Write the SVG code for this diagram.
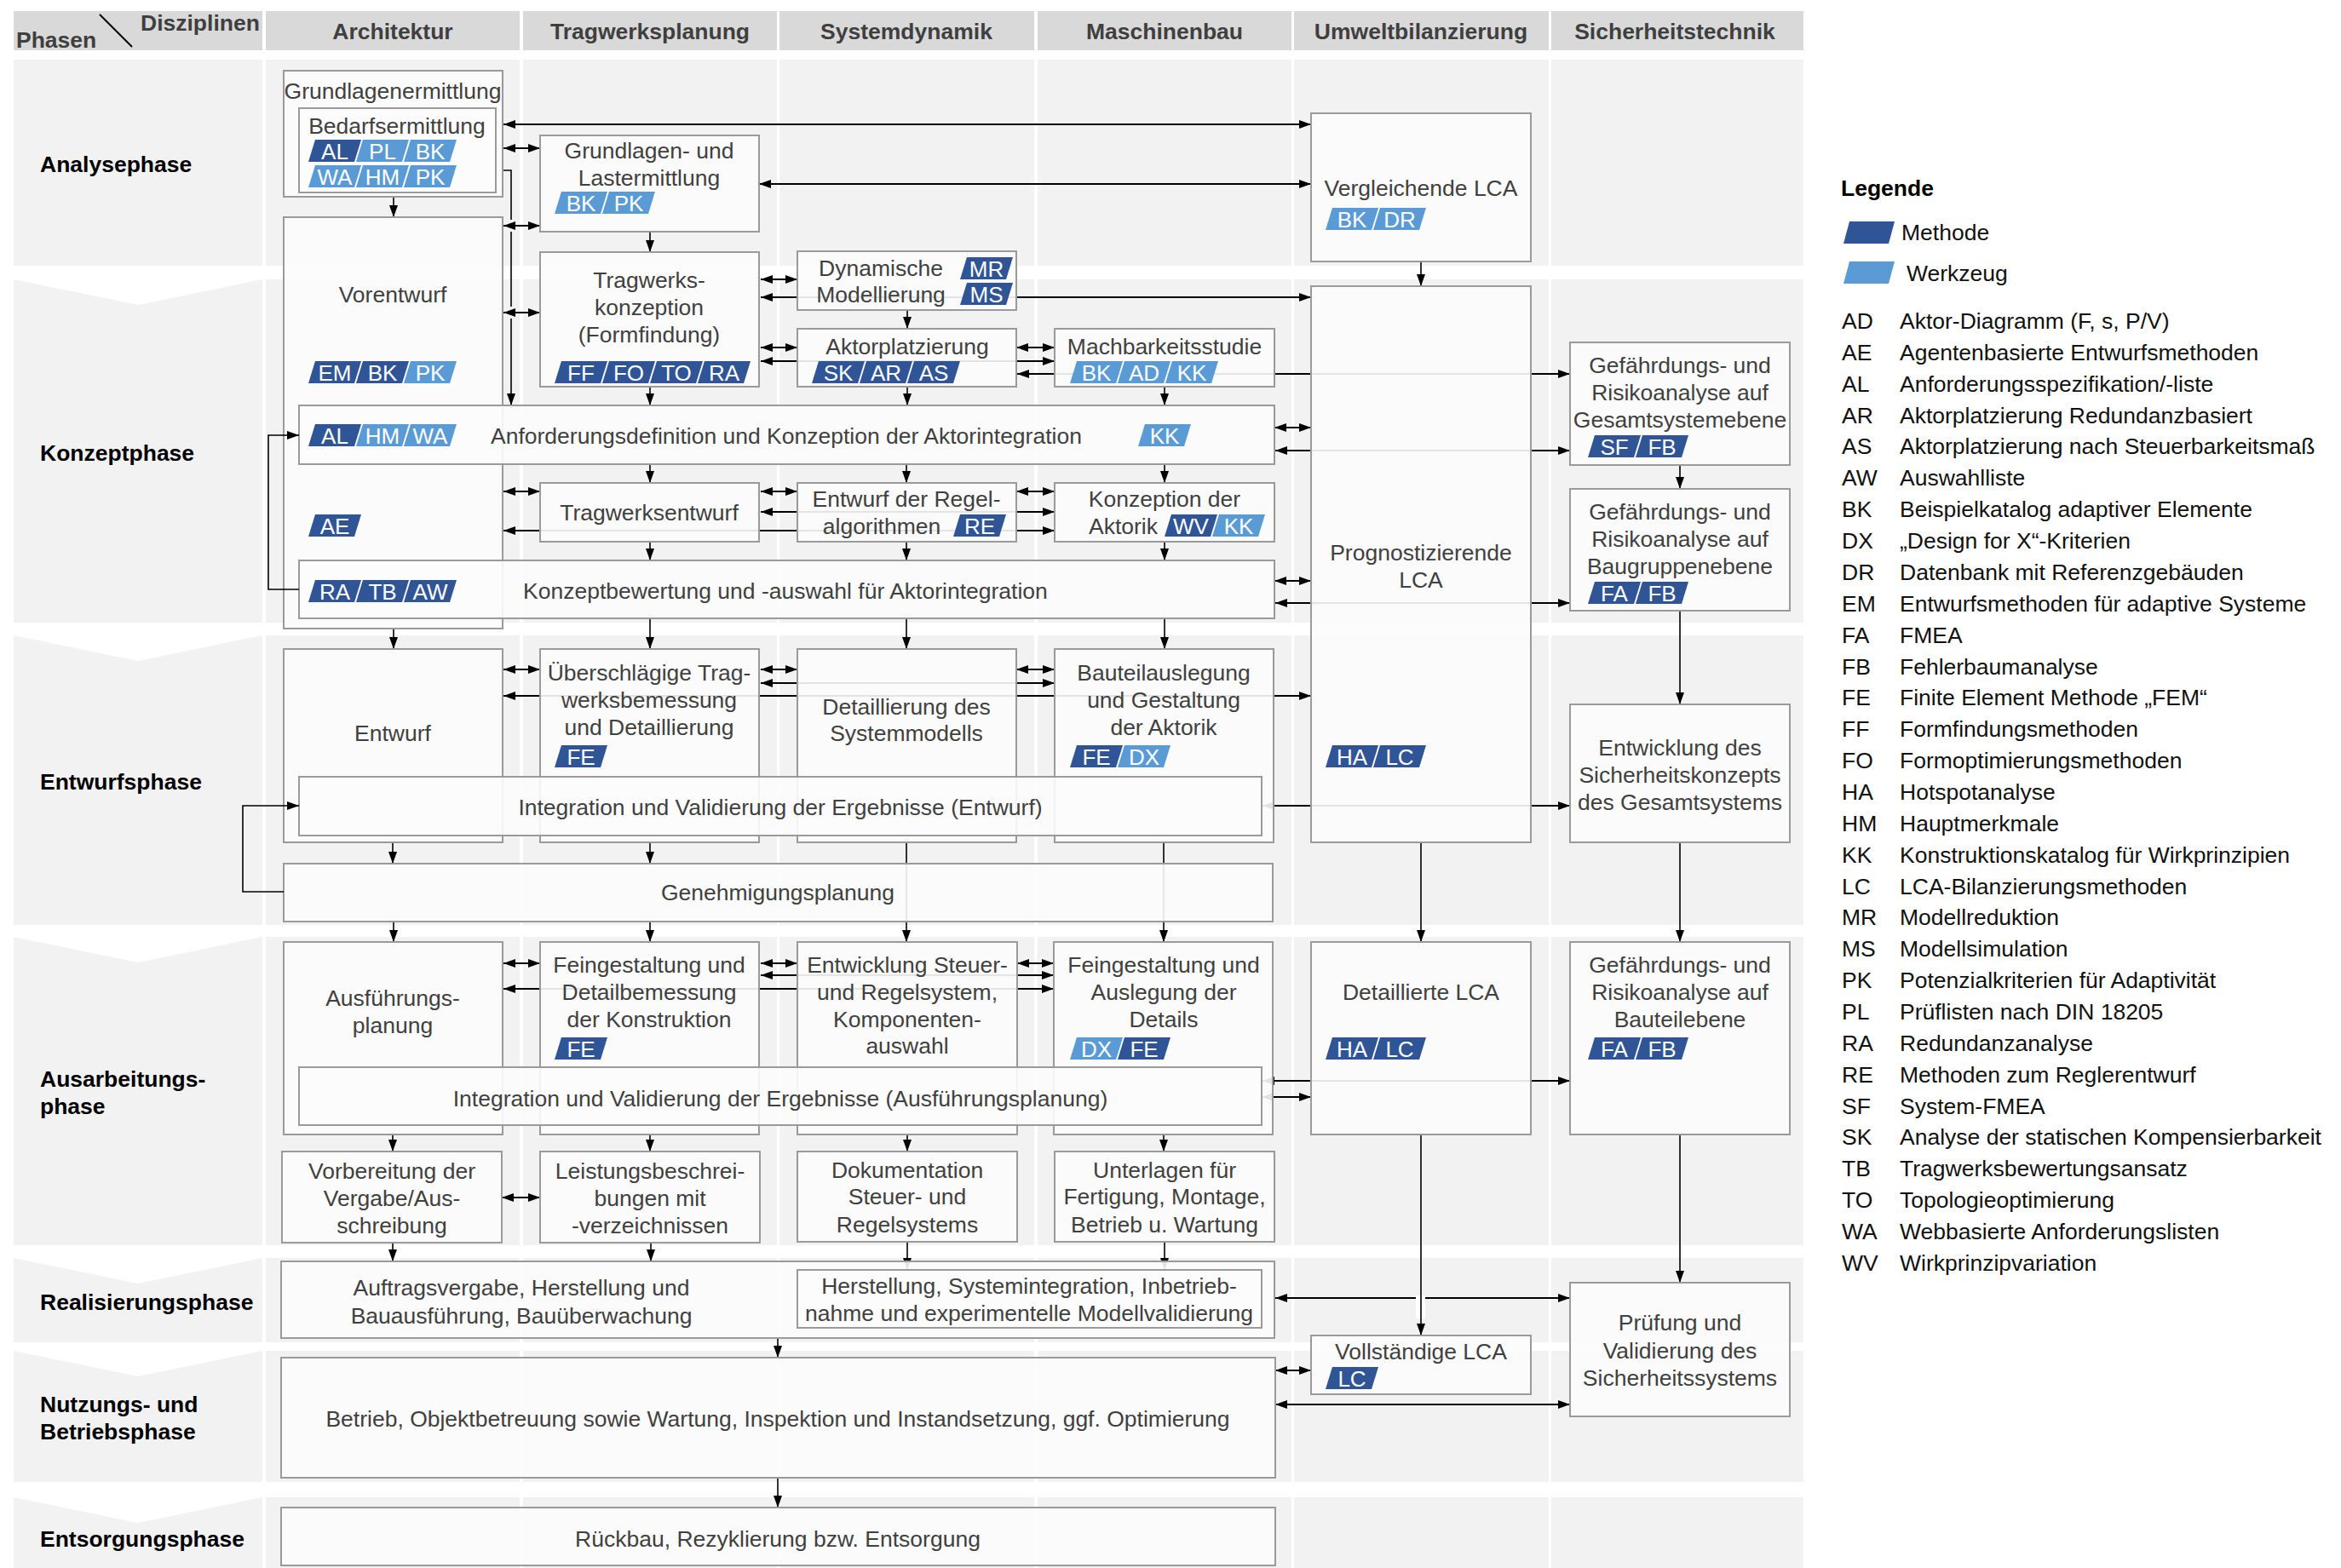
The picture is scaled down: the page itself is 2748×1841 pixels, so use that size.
<svg xmlns="http://www.w3.org/2000/svg" width="2748" height="1841" viewBox="0 0 2748 1841">
<style>
.band{fill:#f2f2f2}
.hdr{fill:#d9d9d9}
.gap{fill:#ffffff}
.box{fill:#fcfcfc;fill-opacity:.9;stroke:#9a9a9a;stroke-width:2}
text{font-family:"Liberation Sans",Arial,sans-serif;font-size:26.5px}
.t{fill:#404040;text-anchor:middle}
.ts{fill:#404040;text-anchor:start}
.h{fill:#3f3f3f;font-weight:bold;text-anchor:middle}
.hl{fill:#3f3f3f;font-weight:bold}
.ph{fill:#000;font-weight:bold}
.lg{fill:#111}
.m{fill:#2f5597}
.w{fill:#5b9bd5}
.tg{fill:#fff;font-size:26px;text-anchor:middle}
.c{fill:none;stroke:#000;stroke-width:2}
.v{fill:none;stroke:#000;stroke-width:1.6}
.a{marker-end:url(#ah)}
.d{marker-start:url(#ah);marker-end:url(#ah)}
</style>
<defs>
<marker id="ah" viewBox="0 0 14 10" refX="14" refY="5" markerWidth="14" markerHeight="10" markerUnits="userSpaceOnUse" orient="auto-start-reverse">
<path d="M0,0 L14,5 L0,10 z" fill="#000"/>
</marker>
</defs>

<rect width="2748" height="1841" fill="#fff"/>

<!-- header and phase bands -->
<g id="grid">
<rect class="hdr" x="16" y="13" width="2101" height="46"/>
<rect class="band" x="16" y="70" width="2101" height="242"/>
<rect class="band" x="16" y="328" width="2101" height="403"/>
<rect class="band" x="16" y="746" width="2101" height="340"/>
<rect class="band" x="16" y="1100" width="2101" height="362"/>
<rect class="band" x="16" y="1477" width="2101" height="99"/>
<rect class="band" x="16" y="1586" width="2101" height="154"/>
<rect class="band" x="16" y="1758" width="2101" height="83"/>
<rect class="gap" x="308" y="13" width="4" height="1828"/>
<rect class="gap" x="610" y="13" width="4" height="1828"/>
<rect class="gap" x="912" y="13" width="3" height="1828"/>
<rect class="gap" x="1214" y="13" width="4" height="1828"/>
<rect class="gap" x="1516" y="13" width="3" height="1828"/>
<rect class="gap" x="1818" y="13" width="3" height="1828"/>
<polygon class="gap" points="16,328 308,328 162,358"/>
<polygon class="gap" points="16,746 308,746 162,776"/>
<polygon class="gap" points="16,1100 308,1100 162,1130"/>
<polygon class="gap" points="16,1477 308,1477 162,1507"/>
<polygon class="gap" points="16,1586 308,1586 162,1616"/>
<polygon class="gap" points="16,1758 308,1758 162,1788"/>
<text class="hl" x="19" y="56">Phasen</text>
<text class="hl" x="165" y="36">Disziplinen</text>
<path d="M117,17 L155,55" stroke="#000" stroke-width="2"/>
<text class="h" x="461" y="46">Architektur</text>
<text class="h" x="763" y="46">Tragwerksplanung</text>
<text class="h" x="1064" y="46">Systemdynamik</text>
<text class="h" x="1367" y="46">Maschinenbau</text>
<text class="h" x="1668" y="46">Umweltbilanzierung</text>
<text class="h" x="1966" y="46">Sicherheitstechnik</text>
<text class="ph" x="47" y="202">Analysephase</text>
<text class="ph" x="47" y="541">Konzeptphase</text>
<text class="ph" x="47" y="927">Entwurfsphase</text>
<text class="ph" x="47" y="1276">Ausarbeitungs-</text>
<text class="ph" x="47" y="1308">phase</text>
<text class="ph" x="47" y="1538">Realisierungsphase</text>
<text class="ph" x="47" y="1658">Nutzungs- und</text>
<text class="ph" x="47" y="1690">Betriebsphase</text>
<text class="ph" x="47" y="1816">Entsorgungsphase</text>
</g>

<!-- connectors running beneath the boxes -->
<g id="connectors">
<path class="c d" d="M591,174 H634"/>
<path class="c d" d="M591,265 H634"/>
<path class="c d" d="M591,367 H634"/>
<path class="c d" d="M893,328 H936"/>
<path class="c d" d="M893,408 H936"/>
<path class="c d" d="M1193,408 H1238"/>
<path class="c d" d="M1496,502 H1539"/>
<path class="c d" d="M591,577 H634"/>
<path class="c d" d="M893,577 H936"/>
<path class="c d" d="M1193,577 H1238"/>
<path class="c d" d="M1496,682 H1539"/>
<path class="c d" d="M591,786 H634"/>
<path class="c d" d="M893,786 H936"/>
<path class="c d" d="M1193,786 H1238"/>
<path class="c d" d="M591,1131 H634"/>
<path class="c d" d="M893,1131 H936"/>
<path class="c d" d="M1194,1131 H1237"/>
<path class="c d" d="M1481,1288 H1539"/>
<path class="c d" d="M589,1406 H634"/>
<path class="c d" d="M1497,1609 H1539"/>

<path class="c d" d="M591,146 H1539"/>
<path class="c d" d="M891,216 H1539"/>
<path class="c d" d="M893,349 H1539"/>
<path class="c d" d="M893,424 H1238"/>
<path class="c d" d="M1194,439 H1843"/>
<path class="c d" d="M1497,529 H1843"/>
<path class="c d" d="M893,601 H1238"/>
<path class="c d" d="M591,623 H1238"/>
<path class="c d" d="M1497,708 H1843"/>
<path class="c d" d="M893,802 H1238"/>
<path class="c d" d="M591,817 H1539"/>
<path class="c d" d="M1482,946 H1843"/>
<path class="c d" d="M893,1145 H1237"/>
<path class="c d" d="M591,1161 H1237"/>
<path class="c d" d="M1482,1269 H1843"/>
<path class="c d" d="M1497,1524 H1843"/>
<path class="c d" d="M1497,1649 H1843"/>

<!-- line jump where the LCA feed crosses the realisation link -->
<rect x="1662" y="1521" width="11" height="27" fill="#fff"/>

<path class="v a" d="M462,231 V255"/>
<path class="v a" d="M763,272 V296"/>
<path class="v a" d="M1668,307 V336"/>
<path class="v a" d="M1065,364 V386"/>
<path class="v a" d="M763,454 V476"/>
<path class="v a" d="M1065,454 V476"/>
<path class="v a" d="M1367,454 V476"/>
<path class="v a" d="M1972,546 V574"/>
<path class="v a" d="M763,545 V567"/>
<path class="v a" d="M1064,545 V567"/>
<path class="v a" d="M1367,545 V567"/>
<path class="v a" d="M763,636 V658"/>
<path class="v a" d="M1064,636 V658"/>
<path class="v a" d="M1367,636 V658"/>
<path class="v a" d="M462,738 V762"/>
<path class="v a" d="M763,726 V762"/>
<path class="v a" d="M1064,726 V762"/>
<path class="v a" d="M1367,726 V762"/>
<path class="v a" d="M1972,717 V827"/>
<path class="v a" d="M461,989 V1014"/>
<path class="v a" d="M763,989 V1014"/>
<path class="v a" d="M1064,989 V1106"/>
<path class="v a" d="M1366,989 V1106"/>
<path class="v a" d="M1668,989 V1106"/>
<path class="v a" d="M462,1082 V1106"/>
<path class="v a" d="M763,1082 V1106"/>
<path class="v a" d="M1972,989 V1106"/>
<path class="v a" d="M461,1332 V1352"/>
<path class="v a" d="M763,1332 V1352"/>
<path class="v a" d="M1065,1332 V1352"/>
<path class="v a" d="M1366,1332 V1352"/>
<path class="v a" d="M1668,1332 V1568"/>
<path class="v a" d="M1972,1332 V1506"/>
<path class="v a" d="M461,1459 V1481"/>
<path class="v a" d="M764,1459 V1481"/>
<path class="v a" d="M1065,1458 V1491"/>
<path class="v a" d="M1367,1458 V1491"/>
<path class="v a" d="M913,1571 V1594"/>
<path class="v a" d="M913,1735 V1770"/>

<path class="v" d="M590,200 H600 V258"/>
<path class="v" d="M600,272 V360"/>
<path class="v a" d="M600,374 V476"/>
</g>

<!-- Analysephase -->
<g id="n-grundlagen">
<rect class="box" x="333" y="83" width="257" height="148"/>
<text class="t" x="461" y="116">Grundlagenermittlung</text>
</g>
<g id="n-bedarf">
<rect class="box" x="351" y="127" width="231" height="99"/>
<text class="t" x="466" y="157">Bedarfsermittlung</text>
<polygon class="m" points="370,164 424,164 416,190 362,190"/><text class="tg" x="393" y="187">AL</text>
<polygon class="w" points="426,164 480,164 472,190 418,190"/><text class="tg" x="449" y="187">PL</text>
<polygon class="w" points="482,164 536,164 528,190 474,190"/><text class="tg" x="505" y="187">BK</text>
<polygon class="w" points="370,194 424,194 416,220 362,220"/><text class="tg" x="393" y="217">WA</text>
<polygon class="w" points="426,194 480,194 472,220 418,220"/><text class="tg" x="449" y="217">HM</text>
<polygon class="w" points="482,194 536,194 528,220 474,220"/><text class="tg" x="505" y="217">PK</text>
</g>
<g id="n-grundlagen-last">
<rect class="box" x="634" y="159" width="257" height="113"/>
<text class="t" x="762" y="186">Grundlagen- und</text>
<text class="t" x="762" y="218">Lastermittlung</text>
<polygon class="w" points="659,225 713,225 705,251 651,251"/><text class="tg" x="682" y="248">BK</text>
<polygon class="w" points="715,225 769,225 761,251 707,251"/><text class="tg" x="738" y="248">PK</text>
</g>
<g id="n-vergleichende-lca">
<rect class="box" x="1539" y="133" width="258" height="174"/>
<text class="t" x="1668" y="230">Vergleichende LCA</text>
<polygon class="w" points="1564,244 1618,244 1610,270 1556,270"/><text class="tg" x="1587" y="267">BK</text>
<polygon class="w" points="1620,244 1674,244 1666,270 1612,270"/><text class="tg" x="1643" y="267">DR</text>
</g>

<!-- Konzeptphase -->
<g id="n-vorentwurf">
<rect class="box" x="333" y="255" width="257" height="483"/>
<text class="t" x="461" y="355">Vorentwurf</text>
<polygon class="m" points="370,424 424,424 416,450 362,450"/><text class="tg" x="393" y="447">EM</text>
<polygon class="m" points="426,424 480,424 472,450 418,450"/><text class="tg" x="449" y="447">BK</text>
<polygon class="w" points="482,424 536,424 528,450 474,450"/><text class="tg" x="505" y="447">PK</text>
<polygon class="m" points="370,604 424,604 416,630 362,630"/><text class="tg" x="393" y="627">AE</text>
</g>
<g id="n-tragwerkskonzeption">
<rect class="box" x="634" y="296" width="257" height="158"/>
<text class="t" x="762" y="338">Tragwerks-</text>
<text class="t" x="762" y="370">konzeption</text>
<text class="t" x="762" y="402">(Formfindung)</text>
<polygon class="m" points="659,424 713,424 705,450 651,450"/><text class="tg" x="682" y="447">FF</text>
<polygon class="m" points="715,424 769,424 761,450 707,450"/><text class="tg" x="738" y="447">FO</text>
<polygon class="m" points="771,424 825,424 817,450 763,450"/><text class="tg" x="794" y="447">TO</text>
<polygon class="m" points="827,424 881,424 873,450 819,450"/><text class="tg" x="850" y="447">RA</text>
</g>
<g id="n-dynamische-modellierung">
<rect class="box" x="936" y="295" width="257" height="69"/>
<text class="t" x="1034" y="324">Dynamische</text>
<text class="t" x="1034" y="355">Modellierung</text>
<polygon class="m" points="1135,302 1189,302 1181,328 1127,328"/><text class="tg" x="1158" y="325">MR</text>
<polygon class="m" points="1135,332 1189,332 1181,358 1127,358"/><text class="tg" x="1158" y="355">MS</text>
</g>
<g id="n-aktorplatzierung">
<rect class="box" x="936" y="386" width="257" height="68"/>
<text class="t" x="1065" y="416">Aktorplatzierung</text>
<polygon class="m" points="961,424 1015,424 1007,450 953,450"/><text class="tg" x="984" y="447">SK</text>
<polygon class="m" points="1017,424 1071,424 1063,450 1009,450"/><text class="tg" x="1040" y="447">AR</text>
<polygon class="m" points="1073,424 1127,424 1119,450 1065,450"/><text class="tg" x="1096" y="447">AS</text>
</g>
<g id="n-machbarkeitsstudie">
<rect class="box" x="1238" y="386" width="258" height="68"/>
<text class="t" x="1367" y="416">Machbarkeitsstudie</text>
<polygon class="w" points="1264,424 1318,424 1310,450 1256,450"/><text class="tg" x="1287" y="447">BK</text>
<polygon class="w" points="1320,424 1374,424 1366,450 1312,450"/><text class="tg" x="1343" y="447">AD</text>
<polygon class="w" points="1376,424 1430,424 1422,450 1368,450"/><text class="tg" x="1399" y="447">KK</text>
</g>
<g id="n-prognostizierende-lca">
<rect class="box" x="1539" y="336" width="258" height="653"/>
<text class="t" x="1668" y="658">Prognostizierende</text>
<text class="t" x="1668" y="690">LCA</text>
<polygon class="m" points="1564,875 1618,875 1610,901 1556,901"/><text class="tg" x="1587" y="898">HA</text>
<polygon class="m" points="1620,875 1674,875 1666,901 1612,901"/><text class="tg" x="1643" y="898">LC</text>
</g>
<g id="n-gefaehrdung-gesamtsystem">
<rect class="box" x="1843" y="402" width="258" height="144"/>
<text class="t" x="1972" y="438">Gefährdungs- und</text>
<text class="t" x="1972" y="470">Risikoanalyse auf</text>
<text class="t" x="1972" y="502">Gesamtsystemebene</text>
<polygon class="m" points="1872,511 1926,511 1918,537 1864,537"/><text class="tg" x="1895" y="534">SF</text>
<polygon class="m" points="1928,511 1982,511 1974,537 1920,537"/><text class="tg" x="1951" y="534">FB</text>
</g>
<g id="n-anforderungsdefinition">
<rect class="box" x="351" y="476" width="1145" height="69"/>
<text class="ts" x="576" y="521">Anforderungsdefinition und Konzeption der Aktorintegration</text>
<polygon class="m" points="370,498 424,498 416,524 362,524"/><text class="tg" x="393" y="521">AL</text>
<polygon class="w" points="426,498 480,498 472,524 418,524"/><text class="tg" x="449" y="521">HM</text>
<polygon class="w" points="482,498 536,498 528,524 474,524"/><text class="tg" x="505" y="521">WA</text>
<polygon class="w" points="1344,498 1398,498 1390,524 1336,524"/><text class="tg" x="1367" y="521">KK</text>
</g>
<g id="n-tragwerksentwurf">
<rect class="box" x="634" y="567" width="257" height="69"/>
<text class="t" x="762" y="611">Tragwerksentwurf</text>
</g>
<g id="n-regelalgorithmen">
<rect class="box" x="936" y="567" width="257" height="69"/>
<text class="t" x="1064" y="595">Entwurf der Regel-</text>
<text class="t" x="1035" y="627">algorithmen</text>
<polygon class="m" points="1127,604 1181,604 1173,630 1119,630"/><text class="tg" x="1150" y="627">RE</text>
</g>
<g id="n-konzeption-aktorik">
<rect class="box" x="1238" y="567" width="258" height="69"/>
<text class="t" x="1367" y="595">Konzeption der</text>
<text class="ts" x="1278" y="627">Aktorik</text>
<polygon class="m" points="1375,604 1429,604 1421,630 1367,630"/><text class="tg" x="1398" y="627">WV</text>
<polygon class="w" points="1431,604 1485,604 1477,630 1423,630"/><text class="tg" x="1454" y="627">KK</text>
</g>
<g id="n-konzeptbewertung">
<rect class="box" x="351" y="658" width="1145" height="68"/>
<text class="ts" x="614" y="703">Konzeptbewertung und -auswahl für Aktorintegration</text>
<polygon class="m" points="370,681 424,681 416,707 362,707"/><text class="tg" x="393" y="704">RA</text>
<polygon class="m" points="426,681 480,681 472,707 418,707"/><text class="tg" x="449" y="704">TB</text>
<polygon class="m" points="482,681 536,681 528,707 474,707"/><text class="tg" x="505" y="704">AW</text>
</g>
<g id="n-gefaehrdung-baugruppe">
<rect class="box" x="1843" y="574" width="258" height="143"/>
<text class="t" x="1972" y="610">Gefährdungs- und</text>
<text class="t" x="1972" y="642">Risikoanalyse auf</text>
<text class="t" x="1972" y="674">Baugruppenebene</text>
<polygon class="m" points="1872,683 1926,683 1918,709 1864,709"/><text class="tg" x="1895" y="706">FA</text>
<polygon class="m" points="1928,683 1982,683 1974,709 1920,709"/><text class="tg" x="1951" y="706">FB</text>
</g>

<!-- Entwurfsphase -->
<g id="n-entwurf">
<rect class="box" x="333" y="762" width="257" height="227"/>
<text class="t" x="461" y="870">Entwurf</text>
</g>
<g id="n-tragwerksbemessung">
<rect class="box" x="634" y="762" width="257" height="227"/>
<text class="t" x="762" y="799">Überschlägige Trag-</text>
<text class="t" x="762" y="831">werksbemessung</text>
<text class="t" x="762" y="863">und Detaillierung</text>
<polygon class="m" points="659,875 713,875 705,901 651,901"/><text class="tg" x="682" y="898">FE</text>
</g>
<g id="n-systemmodell">
<rect class="box" x="936" y="762" width="257" height="227"/>
<text class="t" x="1064" y="839">Detaillierung des</text>
<text class="t" x="1064" y="870">Systemmodells</text>
</g>
<g id="n-bauteilauslegung">
<rect class="box" x="1238" y="762" width="257" height="227"/>
<text class="t" x="1366" y="799">Bauteilauslegung</text>
<text class="t" x="1366" y="831">und Gestaltung</text>
<text class="t" x="1366" y="863">der Aktorik</text>
<polygon class="m" points="1264,875 1318,875 1310,901 1256,901"/><text class="tg" x="1287" y="898">FE</text>
<polygon class="w" points="1320,875 1374,875 1366,901 1312,901"/><text class="tg" x="1343" y="898">DX</text>
</g>
<g id="n-integration-entwurf">
<rect class="box" x="351" y="912" width="1130" height="69"/>
<text class="t" x="916" y="957">Integration und Validierung der Ergebnisse (Entwurf)</text>
</g>
<g id="n-sicherheitskonzept">
<rect class="box" x="1843" y="827" width="258" height="162"/>
<text class="t" x="1972" y="887">Entwicklung des</text>
<text class="t" x="1972" y="919">Sicherheitskonzepts</text>
<text class="t" x="1972" y="951">des Gesamtsystems</text>
</g>
<g id="n-genehmigungsplanung">
<rect class="box" x="333" y="1014" width="1161" height="68"/>
<text class="t" x="913" y="1057">Genehmigungsplanung</text>
</g>

<!-- Ausarbeitungsphase -->
<g id="n-ausfuehrungsplanung">
<rect class="box" x="333" y="1106" width="257" height="226"/>
<text class="t" x="461" y="1181">Ausführungs-</text>
<text class="t" x="461" y="1213">planung</text>
</g>
<g id="n-detailbemessung">
<rect class="box" x="634" y="1106" width="257" height="226"/>
<text class="t" x="762" y="1142">Feingestaltung und</text>
<text class="t" x="762" y="1174">Detailbemessung</text>
<text class="t" x="762" y="1206">der Konstruktion</text>
<polygon class="m" points="659,1218 713,1218 705,1244 651,1244"/><text class="tg" x="682" y="1241">FE</text>
</g>
<g id="n-steuer-regelsystem">
<rect class="box" x="936" y="1106" width="258" height="226"/>
<text class="t" x="1065" y="1142">Entwicklung Steuer-</text>
<text class="t" x="1065" y="1174">und Regelsystem,</text>
<text class="t" x="1065" y="1206">Komponenten-</text>
<text class="t" x="1065" y="1237">auswahl</text>
</g>
<g id="n-auslegung-details">
<rect class="box" x="1237" y="1106" width="257" height="226"/>
<text class="t" x="1366" y="1142">Feingestaltung und</text>
<text class="t" x="1366" y="1174">Auslegung der</text>
<text class="t" x="1366" y="1206">Details</text>
<polygon class="w" points="1264,1218 1318,1218 1310,1244 1256,1244"/><text class="tg" x="1287" y="1241">DX</text>
<polygon class="m" points="1320,1218 1374,1218 1366,1244 1312,1244"/><text class="tg" x="1343" y="1241">FE</text>
</g>
<g id="n-detaillierte-lca">
<rect class="box" x="1539" y="1106" width="258" height="226"/>
<text class="t" x="1668" y="1174">Detaillierte LCA</text>
<polygon class="m" points="1564,1218 1618,1218 1610,1244 1556,1244"/><text class="tg" x="1587" y="1241">HA</text>
<polygon class="m" points="1620,1218 1674,1218 1666,1244 1612,1244"/><text class="tg" x="1643" y="1241">LC</text>
</g>
<g id="n-gefaehrdung-bauteil">
<rect class="box" x="1843" y="1106" width="258" height="226"/>
<text class="t" x="1972" y="1142">Gefährdungs- und</text>
<text class="t" x="1972" y="1174">Risikoanalyse auf</text>
<text class="t" x="1972" y="1206">Bauteilebene</text>
<polygon class="m" points="1872,1218 1926,1218 1918,1244 1864,1244"/><text class="tg" x="1895" y="1241">FA</text>
<polygon class="m" points="1928,1218 1982,1218 1974,1244 1920,1244"/><text class="tg" x="1951" y="1241">FB</text>
</g>
<g id="n-integration-ausfuehrung">
<rect class="box" x="351" y="1253" width="1130" height="68"/>
<text class="t" x="916" y="1299">Integration und Validierung der Ergebnisse (Ausführungsplanung)</text>
</g>
<g id="n-vergabe">
<rect class="box" x="331" y="1352" width="258" height="107"/>
<text class="t" x="460" y="1384">Vorbereitung der</text>
<text class="t" x="460" y="1416">Vergabe/Aus-</text>
<text class="t" x="460" y="1448">schreibung</text>
</g>
<g id="n-leistungsbeschreibung">
<rect class="box" x="634" y="1352" width="258" height="107"/>
<text class="t" x="763" y="1384">Leistungsbeschrei-</text>
<text class="t" x="763" y="1416">bungen mit</text>
<text class="t" x="763" y="1448">-verzeichnissen</text>
</g>
<g id="n-dokumentation">
<rect class="box" x="936" y="1352" width="258" height="106"/>
<text class="t" x="1065" y="1383">Dokumentation</text>
<text class="t" x="1065" y="1414">Steuer- und</text>
<text class="t" x="1065" y="1447">Regelsystems</text>
</g>
<g id="n-unterlagen">
<rect class="box" x="1238" y="1352" width="258" height="106"/>
<text class="t" x="1367" y="1383">Unterlagen für</text>
<text class="t" x="1367" y="1414">Fertigung, Montage,</text>
<text class="t" x="1367" y="1447">Betrieb u. Wartung</text>
</g>

<!-- Realisierung, Nutzung, Entsorgung -->
<g id="n-auftragsvergabe">
<rect class="box" x="330" y="1481" width="1166" height="90"/>
<text class="t" x="612" y="1521">Auftragsvergabe, Herstellung und</text>
<text class="t" x="612" y="1554">Bauausführung, Bauüberwachung</text>
</g>
<g id="n-herstellung">
<rect class="box" x="936" y="1491" width="545" height="68"/>
<text class="t" x="1208" y="1519">Herstellung, Systemintegration, Inbetrieb-</text>
<text class="t" x="1208" y="1551">nahme und experimentelle Modellvalidierung</text>
</g>
<g id="n-pruefung">
<rect class="box" x="1843" y="1506" width="258" height="157"/>
<text class="t" x="1972" y="1562">Prüfung und</text>
<text class="t" x="1972" y="1595">Validierung des</text>
<text class="t" x="1972" y="1627">Sicherheitssystems</text>
</g>
<g id="n-vollstaendige-lca">
<rect class="box" x="1539" y="1568" width="258" height="69"/>
<text class="t" x="1668" y="1596">Vollständige LCA</text>
<polygon class="m" points="1564,1605 1618,1605 1610,1631 1556,1631"/><text class="tg" x="1587" y="1628">LC</text>
</g>
<g id="n-betrieb">
<rect class="box" x="330" y="1594" width="1167" height="141"/>
<text class="t" x="913" y="1675">Betrieb, Objektbetreuung sowie Wartung, Inspektion und Instandsetzung, ggf. Optimierung</text>
</g>
<g id="n-rueckbau">
<rect class="box" x="330" y="1770" width="1167" height="68"/>
<text class="t" x="913" y="1816">Rückbau, Rezyklierung bzw. Entsorgung</text>
</g>

<!-- feedback loops drawn above the boxes they enter -->
<g id="connectors-loops">
<path class="v a" d="M351,692 H315 V511 H351"/>
<path class="v a" d="M333,1047 H285 V946 H351"/>
</g>

<!-- legend -->
<g id="legend">
<text class="ph" x="2161" y="230">Legende</text>
<polygon class="m" points="2171,260 2224,260 2217,286 2164,286"/>
<text class="lg" x="2232" y="282">Methode</text>
<polygon class="w" points="2171,307 2224,307 2217,333 2164,333"/>
<text class="lg" x="2238" y="330">Werkzeug</text>
<g class="lg">
<text x="2162" y="386">AD</text><text x="2230" y="386">Aktor-Diagramm (F, s, P/V)</text>
<text x="2162" y="423">AE</text><text x="2230" y="423">Agentenbasierte Entwurfsmethoden</text>
<text x="2162" y="460">AL</text><text x="2230" y="460">Anforderungsspezifikation/-liste</text>
<text x="2162" y="497">AR</text><text x="2230" y="497">Aktorplatzierung Redundanzbasiert</text>
<text x="2162" y="533">AS</text><text x="2230" y="533">Aktorplatzierung nach Steuerbarkeitsmaß</text>
<text x="2162" y="570">AW</text><text x="2230" y="570">Auswahlliste</text>
<text x="2162" y="607">BK</text><text x="2230" y="607">Beispielkatalog adaptiver Elemente</text>
<text x="2162" y="644">DX</text><text x="2230" y="644">„Design for X“-Kriterien</text>
<text x="2162" y="681">DR</text><text x="2230" y="681">Datenbank mit Referenzgebäuden</text>
<text x="2162" y="718">EM</text><text x="2230" y="718">Entwurfsmethoden für adaptive Systeme</text>
<text x="2162" y="755">FA</text><text x="2230" y="755">FMEA</text>
<text x="2162" y="792">FB</text><text x="2230" y="792">Fehlerbaumanalyse</text>
<text x="2162" y="828">FE</text><text x="2230" y="828">Finite Element Methode „FEM“</text>
<text x="2162" y="865">FF</text><text x="2230" y="865">Formfindungsmethoden</text>
<text x="2162" y="902">FO</text><text x="2230" y="902">Formoptimierungsmethoden</text>
<text x="2162" y="939">HA</text><text x="2230" y="939">Hotspotanalyse</text>
<text x="2162" y="976">HM</text><text x="2230" y="976">Hauptmerkmale</text>
<text x="2162" y="1013">KK</text><text x="2230" y="1013">Konstruktionskatalog für Wirkprinzipien</text>
<text x="2162" y="1050">LC</text><text x="2230" y="1050">LCA-Bilanzierungsmethoden</text>
<text x="2162" y="1086">MR</text><text x="2230" y="1086">Modellreduktion</text>
<text x="2162" y="1123">MS</text><text x="2230" y="1123">Modellsimulation</text>
<text x="2162" y="1160">PK</text><text x="2230" y="1160">Potenzialkriterien für Adaptivität</text>
<text x="2162" y="1197">PL</text><text x="2230" y="1197">Prüflisten nach DIN 18205</text>
<text x="2162" y="1234">RA</text><text x="2230" y="1234">Redundanzanalyse</text>
<text x="2162" y="1271">RE</text><text x="2230" y="1271">Methoden zum Reglerentwurf</text>
<text x="2162" y="1308">SF</text><text x="2230" y="1308">System-FMEA</text>
<text x="2162" y="1344">SK</text><text x="2230" y="1344">Analyse der statischen Kompensierbarkeit</text>
<text x="2162" y="1381">TB</text><text x="2230" y="1381">Tragwerksbewertungsansatz</text>
<text x="2162" y="1418">TO</text><text x="2230" y="1418">Topologieoptimierung</text>
<text x="2162" y="1455">WA</text><text x="2230" y="1455">Webbasierte Anforderungslisten</text>
<text x="2162" y="1492">WV</text><text x="2230" y="1492">Wirkprinzipvariation</text>
</g>
</g>
</svg>
